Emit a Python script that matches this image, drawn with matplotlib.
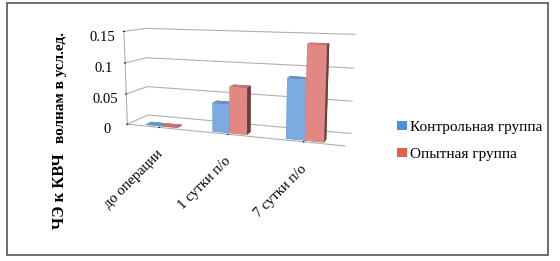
import matplotlib.pyplot as plt
import numpy as np
from matplotlib.patches import Patch, Rectangle
from mpl_toolkits.mplot3d import proj3d

categories = ["до операции", "1 сутки п/о", "7 сутки п/о"]
control = [0.001, 0.045, 0.09]
experimental = [0.001, 0.072, 0.14]
series_names = ["Контрольная группа", "Опытная группа"]
zticks = [0, 0.05, 0.1, 0.15]
zticklabels = ["0", "0.05", "0.1", "0.15"]

blue = "#8cc2ff"
red = "#ff9a96"
serif = "Liberation Serif"
plt.rcParams["font.family"] = [serif, "DejaVu Serif"]

fig = plt.figure(figsize=(5.6, 2.61), dpi=100)

# outer frame
fig.patches.append(Rectangle((0.0125, 0.023), 0.966, 0.965, transform=fig.transFigure,
                             fill=False, edgecolor="#555555", linewidth=1.2))

ax = fig.add_axes([0.135, 0.21, 0.56, 0.93], projection="3d")
ax.set_proj_type("persp", focal_length=0.4)
ax.view_init(elev=10, azim=-70)

x = np.arange(len(categories))
w = 0.24
ax.bar3d(x - w, np.full(3, 0.1), np.zeros(3), w, 0.25, control, color=blue, shade=True)
ax.bar3d(x, np.full(3, 0.1), np.zeros(3), w, 0.25, experimental, color=red, shade=True)

ax.set_xlim(-0.5, 2.5)
ax.set_ylim(0, 1)
ax.set_zlim(0, 0.15)
ax.set_box_aspect((3.6, 0.7, 1.55))

ax.zaxis.set_ticks_position("lower")
ax.set_zticks(zticks)
ax.set_zticklabels(zticklabels, fontsize=10.5, fontfamily=serif)
ax.tick_params(axis="z", pad=1)
ax.set_xticks(x)
ax.set_xticklabels([])
ax.set_yticks([])

for a in (ax.xaxis, ax.yaxis, ax.zaxis):
    a.set_pane_color((1, 1, 1, 0))
    a._axinfo["grid"]["color"] = "#b0b0b0"
    a._axinfo["grid"]["linewidth"] = 0.8
ax.yaxis.line.set_color((1, 1, 1, 0))
ax.xaxis.line.set_color("#b0b0b0")
ax.zaxis.line.set_color("#b0b0b0")
ax.xaxis._axinfo["grid"]["color"] = (1, 1, 1, 0)
ax.yaxis._axinfo["grid"]["color"] = (1, 1, 1, 0)

# rotated category labels placed at projected positions
fig.canvas.draw()
M = ax.get_proj()
for c, lab in zip(x, categories):
    px, py, _ = proj3d.proj_transform(c - 0.05, 0, 0, M)
    ax.annotate(lab, xy=(px, py), xytext=(0, -15), textcoords="offset points",
                rotation=45, ha="right", va="top", rotation_mode="anchor",
                fontsize=10.5, fontfamily=serif)

fig.text(0.108, 0.268, "ЧЭ к КВЧ", rotation=90, ha="center", va="center",
         fontweight="bold", fontsize=12, fontfamily=serif)
fig.text(0.108, 0.663, "волнам в усл.ед.", rotation=90, ha="center", va="center",
         fontweight="bold", fontsize=11, fontfamily=serif)

handles = [Patch(facecolor="#4a8fe0"), Patch(facecolor="#e06050")]
fig.legend(handles, series_names, loc="upper left", bbox_to_anchor=(0.685, 0.59),
           frameon=False, prop={"size": 11, "family": serif},
           handlelength=0.6, handleheight=0.6, handletextpad=0.2, labelspacing=0.9)

fig.savefig("out.png", dpi=100)
